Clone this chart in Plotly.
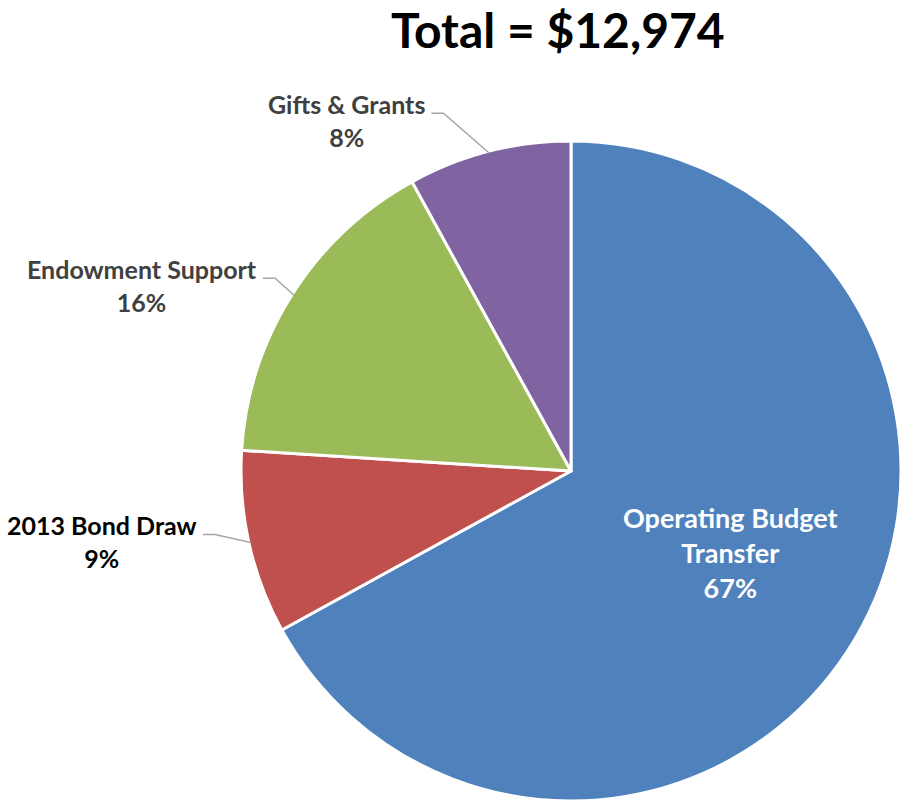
import math
import plotly.graph_objects as go

# Funding sources (share of total, %)
labels = ["Operating Budget Transfer", "2013 Bond Draw", "Endowment Support", "Gifts & Grants"]
shares = [67, 9, 16, 8]
label_lines = [["Operating Budget", "Transfer"], ["2013 Bond Draw"], ["Endowment Support"], ["Gifts & Grants"]]
colors = ["#4F81BD", "#C0504D", "#9BBB59", "#8064A2"]
title_text = "Total = $12,974"

W, H = 905, 801
CX, CY, R = 571, 471, 330
FONT = "Lato"


def px(x):
    return x / W


def py(y):
    return 1 - y / H


fig = go.Figure(
    go.Pie(
        labels=labels,
        values=shares,
        sort=False,
        direction="clockwise",
        rotation=0,
        marker=dict(colors=colors, line=dict(color="white", width=3)),
        textinfo="none",
        hoverinfo="label+percent",
        showlegend=False,
        domain=dict(x=[px(CX - R), px(CX + R)], y=[py(CY + R), py(CY - R)]),
    )
)

# mid-angle of each slice, clockwise from 12 o'clock
total = sum(shares)
mids, acc = [], 0
for v in shares:
    mids.append((acc + v / 2) / total * 2 * math.pi)
    acc += v


def arc_point(theta, r):
    return CX + r * math.sin(theta), CY - r * math.cos(theta)


def label_text(lines, pct, size):
    parts = [f"<span style='font-size:{size}px'>{t}</span>" for t in lines + [f"{pct}%"]]
    return "<b>" + "<br>".join(parts) + "</b>"


annotations = []
shapes = []

# inside label on the large slice
ix, iy = arc_point(mids[0], 0.55 * R)
annotations.append(dict(
    x=px(ix + 3), y=py(iy - 11), xref="paper", yref="paper",
    text=label_text(label_lines[0], shares[0], 27),
    showarrow=False, xanchor="center", yanchor="middle", align="center",
    font=dict(family=FONT, size=27, color="white"),
))

# outside labels with elbow leader lines
elbow_offsets = {1: (-36, -8), 2: (-19, -17), 3: (-46, -40)}
label_colors = {1: "#000000", 2: "#404040", 3: "#404040"}
for i in (1, 2, 3):
    ax, ay = arc_point(mids[i], R - 2)
    ex, ey = ax + elbow_offsets[i][0], ay + elbow_offsets[i][1]
    hx = ex - 12
    shapes.append(dict(
        type="path", xref="paper", yref="paper",
        path=f"M {px(ax)},{py(ay)} L {px(ex)},{py(ey)} L {px(hx)},{py(ey)}",
        line=dict(color="#A6A6A6", width=1.5),
    ))
    annotations.append(dict(
        x=px(hx - 4), y=py(ey + 7), xref="paper", yref="paper",
        text=label_text(label_lines[i], shares[i], 25),
        showarrow=False, xanchor="right", yanchor="middle", align="center",
        font=dict(family=FONT, size=25, color=label_colors[i]),
    ))

annotations.append(dict(
    x=px(558), y=py(30), xref="paper", yref="paper",
    text=f"<b>{title_text}</b>", showarrow=False,
    xanchor="center", yanchor="middle",
    font=dict(family=FONT, size=48, color="#000000"),
))

fig.update_layout(
    width=W, height=H,
    margin=dict(l=0, r=0, t=0, b=0),
    paper_bgcolor="white", plot_bgcolor="white",
    annotations=annotations, shapes=shapes,
)

fig.write_html("out.html")
